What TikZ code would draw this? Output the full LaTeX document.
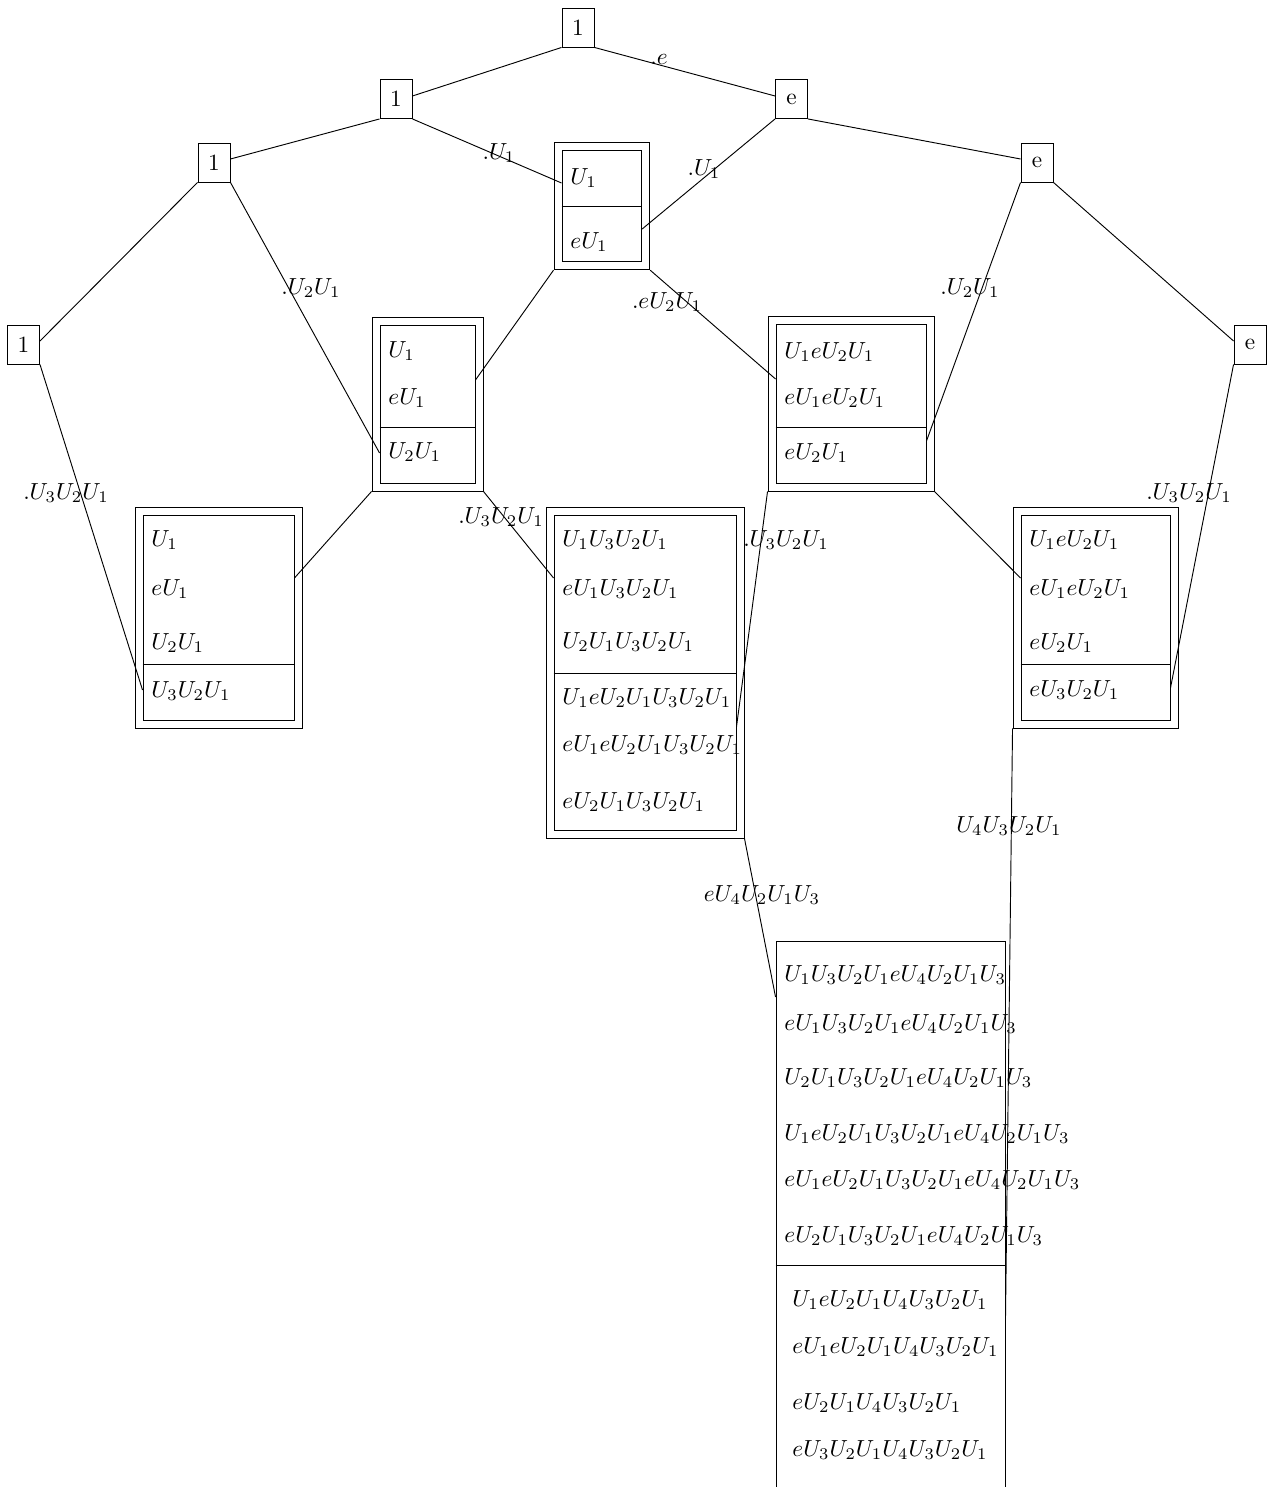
\documentclass[tikz,border=0pt]{standalone}
\usetikzlibrary{fit}
\begin{document}
\begin{tikzpicture}[x=0.4296pt, y=-0.4296pt,
  sq/.style={draw, minimum width=13.75pt, minimum height=16.75pt, inner sep=0pt},
  box/.style={draw, inner sep=0pt},
  obox/.style={draw, inner sep=3.24pt},
  txt/.style={anchor=west, inner sep=0pt},
  lbl/.style={inner sep=0pt}]
\clip (0,0) rectangle (1274,1487);
% square nodes
\node[sq] (A) at (578,27.5) {1};
\node[sq] (B) at (396,99) {1};
\node[sq] (C) at (791.5,99) {e};
\node[sq] (D) at (214,162.5) {1};
\node[sq] (E) at (1037,162.5) {e};
\node[sq] (F) at (23.5,344.5) {1};
\node[sq] (G) at (1250,344.5) {e};
% boxes
\node[box, fit={(562,150.7) (641.7,261.7)}] (b1) {};
\node[obox, fit=(b1)] (b1o) {};
\node[box, fit={(380,325) (475,483)}] (b2) {};
\node[obox, fit=(b2)] (b2o) {};
\node[box, fit={(776,324) (926,483)}] (b4) {};
\node[obox, fit=(b4)] (b4o) {};
\node[box, fit={(143,515) (294,720)}] (b3) {};
\node[obox, fit=(b3)] (b3o) {};
\node[box, fit={(554,515) (736,830)}] (b5) {};
\node[obox, fit=(b5)] (b5o) {};
\node[box, fit={(1021,515) (1170,720)}] (b6) {};
\node[obox, fit=(b6)] (b6o) {};
\node[box, fit={(776,941.5) (1005,1600)}] (b7) {};
% dividers
\draw (b1.west |- 0,206) -- (b1.east |- 0,206);
\draw (b2.west |- 0,427) -- (b2.east |- 0,427);
\draw (b4.west |- 0,427) -- (b4.east |- 0,427);
\draw (b3.west |- 0,664) -- (b3.east |- 0,664);
\draw (b6.west |- 0,664) -- (b6.east |- 0,664);
\draw (b5.west |- 0,673) -- (b5.east |- 0,673);
\draw (b7.west |- 0,1265) -- (b7.east |- 0,1265);
% texts
\node[txt] (t11) at (570,178) {$U_1$};
\node[txt] (t12) at (570,242) {$eU_1$};
\node[txt] (t21) at (388,351) {$U_1$};
\node[txt] (t22) at (388,398) {$eU_1$};
\node[txt] (t23) at (388,452) {$U_2U_1$};
\node[txt] (t41) at (784,352) {$U_1eU_2U_1$};
\node[txt] (t42) at (784,398) {$eU_1eU_2U_1$};
\node[txt] (t43) at (784,453) {$eU_2U_1$};
\node[txt] (t31) at (151,540) {$U_1$};
\node[txt] (t32) at (151,589) {$eU_1$};
\node[txt] (t33) at (151,643) {$U_2U_1$};
\node[txt] (t34) at (151,691) {$U_3U_2U_1$};
\node[txt] (t51) at (562,540) {$U_1U_3U_2U_1$};
\node[txt] (t52) at (562,589) {$eU_1U_3U_2U_1$};
\node[txt] (t53) at (562,642) {$U_2U_1U_3U_2U_1$};
\node[txt] (t54) at (562,698) {$U_1eU_2U_1U_3U_2U_1$};
\node[txt] (t55) at (562,745) {$eU_1eU_2U_1U_3U_2U_1$};
\node[txt] (t56) at (562,802) {$eU_2U_1U_3U_2U_1$};
\node[txt] (t61) at (1029,540) {$U_1eU_2U_1$};
\node[txt] (t62) at (1029,589) {$eU_1eU_2U_1$};
\node[txt] (t63) at (1029,643) {$eU_2U_1$};
\node[txt] (t64) at (1029,690) {$eU_3U_2U_1$};
\node[txt] (t71) at (784,975) {$U_1U_3U_2U_1eU_4U_2U_1U_3$};
\node[txt] (t72) at (784,1024) {$eU_1U_3U_2U_1eU_4U_2U_1U_3$};
\node[txt] (t73) at (784,1078) {$U_2U_1U_3U_2U_1eU_4U_2U_1U_3$};
\node[txt] (t74) at (784,1134) {$U_1eU_2U_1U_3U_2U_1eU_4U_2U_1U_3$};
\node[txt] (t75) at (784,1180) {$eU_1eU_2U_1U_3U_2U_1eU_4U_2U_1U_3$};
\node[txt] (t76) at (784,1236) {$eU_2U_1U_3U_2U_1eU_4U_2U_1U_3$};
\node[txt] (t77) at (792,1300) {$U_1eU_2U_1U_4U_3U_2U_1$};
\node[txt] (t78) at (792,1347) {$eU_1eU_2U_1U_4U_3U_2U_1$};
\node[txt] (t79) at (792,1403) {$eU_2U_1U_4U_3U_2U_1$};
\node[txt] (t710) at (792,1450) {$eU_3U_2U_1U_4U_3U_2U_1$};
% connectors
\draw (A.south west) -- (B.east |- 0,96);
\draw (A.south east) -- (C.west |- 0,96);
\draw (B.south west) -- (D.east |- 0,159);
\draw (B.south east) -- (b1.west |- 0,183);
\draw (C.south west) -- (b1.east |- 0,229);
\draw (C.south east) -- (E.west |- 0,159);
\draw (D.south west) -- (F.east |- 0,341);
\draw (D.south east) -- (b2.west |- 0,453);
\draw (E.south west) -- (b4.east |- 0,441);
\draw (E.south east) -- (G.west |- 0,341);
\draw (F.south east) -- (b3.west |- 0,690);
\draw (G.south west) -- (b6.east |- 0,688);
\draw (b1o.south west) -- (b2.east |- 0,380);
\draw (b1o.south east) -- (b4.west |- 0,379);
\draw (b2o.south west) -- (b3.east |- 0,578);
\draw (b2o.south east) -- (b5.west |- 0,578);
\draw (b4o.south west) -- (b5.east |- 0,727);
\draw (b4o.south east) -- (b6.west |- 0,578);
\draw (b5o.south east) -- (b7.west |- 0,997);
\draw (b6o.south west) -- (b7.east |- 0,1320);
% labels
\node[lbl] (l1) at (659,59) {$.e$};
\node[lbl] (l2) at (499,153) {$.U_1$};
\node[lbl] (l3) at (704,169) {$.U_1$};
\node[lbl] (l4) at (311,288) {$.U_2U_1$};
\node[lbl] (l5) at (667,302) {$.eU_2U_1$};
\node[lbl] (l6) at (970,288) {$.U_2U_1$};
\node[lbl] (l7) at (66,493) {$.U_3U_2U_1$};
\node[lbl] (l8) at (501,517) {$.U_3U_2U_1$};
\node[lbl] (l9) at (786,540) {$.U_3U_2U_1$};
\node[lbl] (l10) at (1189,493) {$.U_3U_2U_1$};
\node[lbl] (l11) at (1009,826) {$U_4U_3U_2U_1$};
\node[lbl] (l12) at (762,895) {$eU_4U_2U_1U_3$};
\end{tikzpicture}
\end{document}
